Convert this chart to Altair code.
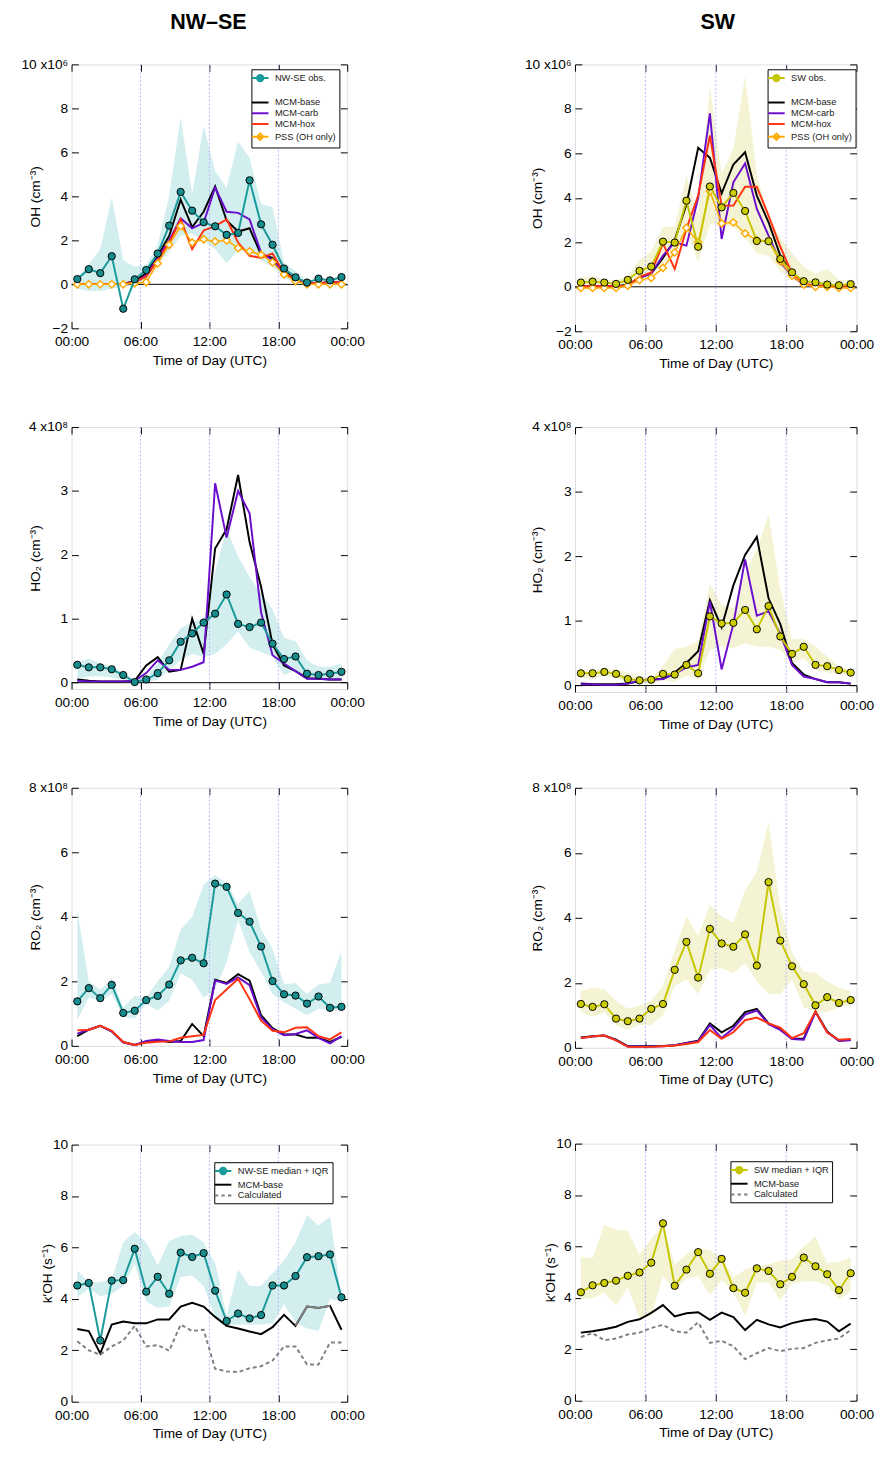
import altair as alt
import pandas as pd

FONT = "Liberation Sans"

# ---------------- data ----------------
T = [0.5, 1.5, 2.5, 3.5, 4.5, 5.5, 6.5, 7.5, 8.5, 9.5, 10.5, 11.5,
     12.5, 13.5, 14.5, 15.5, 16.5, 17.5, 18.5, 19.5, 20.5, 21.5, 22.5, 23.5]

# OH (x10^6 cm-3) NW-SE
nw_oh_obs = [0.24, 0.69, 0.51, 1.28, -1.11, 0.23, 0.65, 1.40, 2.67, 4.20, 3.35, 2.82, 2.64, 2.25, 2.34, 4.73, 2.73, 1.80, 0.72, 0.32, 0.08, 0.26, 0.18, 0.33]
nw_oh_lo = [-0.2, -0.3, -0.3, -0.2, -0.1, -0.05, 0.2, 0.9, 1.5, 2.2, 2.3, 2.0, 1.6, 0.95, 1.55, 1.47, 1.1, 0.8, 0.3, 0.1, 0.0, 0.0, 0.05, 0.05]
nw_oh_hi = [0.3, 0.9, 1.6, 3.95, 1.1, 0.8, 0.9, 1.8, 4.0, 7.6, 4.1, 7.2, 5.15, 4.4, 6.5, 5.75, 3.65, 3.5, 1.0, 0.6, 0.2, 0.2, 0.3, 0.3]
nw_oh_base = [0.02, 0.02, 0.02, 0.02, 0.02, 0.15, 0.5, 1.3, 2.2, 3.85, 2.6, 3.3, 4.45, 2.9, 2.4, 2.55, 1.35, 1.2, 0.6, 0.3, 0.05, 0.05, 0.1, 0.1]
nw_oh_carb = [0.02, 0.02, 0.02, 0.02, 0.02, 0.1, 0.4, 1.2, 2.0, 3.0, 2.55, 2.8, 4.4, 3.3, 3.25, 2.95, 1.45, 1.1, 0.5, 0.2, 0.05, 0.05, 0.1, 0.1]
nw_oh_hox = [0.02, 0.02, 0.02, 0.02, 0.02, 0.1, 0.35, 1.1, 1.9, 2.95, 1.6, 2.45, 2.65, 2.95, 1.9, 1.3, 1.2, 1.4, 0.5, 0.25, 0.05, 0.05, 0.1, 0.1]
nw_oh_pss = [0.0, 0.0, 0.0, 0.0, 0.0, 0.05, 0.1, 0.95, 1.8, 2.65, 1.9, 2.05, 1.95, 2.0, 1.65, 1.5, 1.35, 1.0, 0.45, 0.15, 0.0, 0.0, 0.0, 0.0]

# OH SW
sw_oh_obs = [0.19, 0.23, 0.19, 0.13, 0.31, 0.72, 0.91, 2.03, 1.99, 3.87, 1.80, 4.51, 3.57, 4.22, 3.41, 2.06, 2.05, 1.25, 0.65, 0.25, 0.2, 0.1, 0.07, 0.12]
sw_oh_lo = [0.0, 0.0, 0.0, 0.0, 0.1, 0.3, 0.5, 1.0, 1.5, 2.6, 1.1, 2.8, 2.8, 2.7, 2.2, 1.5, 1.4, 0.7, 0.3, 0.1, 0.05, 0.05, 0.0, 0.0]
sw_oh_hi = [0.4, 0.5, 0.3, 0.3, 0.5, 1.2, 1.6, 2.7, 2.7, 5.0, 3.2, 9.0, 5.1, 6.2, 9.5, 5.0, 3.2, 2.2, 1.5, 0.9, 0.6, 0.8, 0.3, 0.3]
sw_oh_base = [0.02, 0.02, 0.02, 0.02, 0.1, 0.4, 0.6, 1.3, 2.1, 3.7, 6.25, 5.8, 4.2, 5.5, 6.05, 4.1, 2.9, 1.4, 0.6, 0.1, 0.05, 0.05, 0.03, 0.03]
sw_oh_carb = [0.02, 0.02, 0.02, 0.02, 0.05, 0.4, 0.6, 1.4, 2.0, 1.85, 4.0, 7.8, 2.15, 4.7, 5.55, 3.5, 2.3, 1.1, 0.5, 0.1, 0.03, 0.03, 0.03, 0.03]
sw_oh_hox = [0.02, 0.02, 0.02, 0.02, 0.05, 0.45, 0.65, 1.95, 0.8, 2.6, 4.1, 6.8, 3.65, 3.65, 4.5, 4.5, 3.2, 1.8, 0.6, 0.15, 0.05, 0.05, 0.03, 0.03]
sw_oh_pss = [-0.05, -0.05, -0.05, -0.05, 0.05, 0.3, 0.4, 0.85, 1.55, 2.65, 2.0, 4.3, 2.85, 2.9, 2.4, 2.1, 2.05, 1.15, 0.5, 0.1, 0.0, 0.0, -0.05, -0.05]

# HO2 (x10^8 cm-3) NW-SE
nw_ho2_obs = [0.28, 0.24, 0.24, 0.21, 0.12, 0.01, 0.05, 0.15, 0.35, 0.64, 0.77, 0.94, 1.08, 1.38, 0.92, 0.87, 0.94, 0.61, 0.37, 0.41, 0.14, 0.12, 0.14, 0.17]
nw_ho2_lo = [0.05, 0.1, 0.1, 0.08, 0.05, 0.0, 0.0, 0.05, 0.2, 0.35, 0.45, 0.4, 0.45, 0.6, 0.8, 0.55, 0.48, 0.41, 0.12, 0.2, 0.05, 0.05, 0.05, 0.05]
nw_ho2_hi = [0.3, 0.38, 0.3, 0.25, 0.15, 0.05, 0.1, 0.3, 0.6, 0.85, 0.95, 1.0, 1.75, 2.4, 1.98, 1.65, 1.4, 1.15, 0.7, 0.65, 0.35, 0.25, 0.25, 0.3]
nw_ho2_base = [0.05, 0.03, 0.02, 0.02, 0.02, 0.03, 0.27, 0.4, 0.17, 0.2, 1.0, 0.45, 2.1, 2.4, 3.25, 2.2, 1.5, 0.6, 0.27, 0.18, 0.07, 0.06, 0.05, 0.05]
nw_ho2_carb = [0.03, 0.02, 0.02, 0.02, 0.02, 0.03, 0.15, 0.35, 0.2, 0.2, 0.25, 0.32, 3.12, 2.27, 3.0, 2.65, 1.1, 0.43, 0.3, 0.18, 0.06, 0.06, 0.05, 0.05]

# HO2 SW
sw_ho2_obs = [0.19, 0.19, 0.21, 0.18, 0.10, 0.08, 0.09, 0.18, 0.17, 0.32, 0.19, 1.07, 0.96, 0.97, 1.17, 0.87, 1.23, 0.76, 0.49, 0.60, 0.32, 0.30, 0.24, 0.20]
sw_ho2_lo = [0.12, 0.1, 0.15, 0.12, 0.05, 0.02, 0.03, 0.08, 0.05, 0.15, 0.1, 0.55, 0.6, 0.58, 0.65, 0.6, 0.6, 0.55, 0.35, 0.42, 0.25, 0.2, 0.18, 0.15]
sw_ho2_hi = [0.25, 0.25, 0.27, 0.25, 0.2, 0.15, 0.12, 0.3, 0.57, 0.6, 0.68, 1.57, 1.25, 1.2, 1.75, 2.1, 2.65, 1.5, 0.72, 0.72, 0.6, 0.45, 0.3, 0.25]
sw_ho2_base = [0.03, 0.02, 0.02, 0.02, 0.03, 0.07, 0.1, 0.1, 0.2, 0.35, 0.53, 1.32, 0.9, 1.55, 2.02, 2.3, 1.35, 0.95, 0.35, 0.17, 0.1, 0.05, 0.05, 0.03]
sw_ho2_carb = [0.02, 0.02, 0.01, 0.01, 0.03, 0.08, 0.09, 0.1, 0.18, 0.28, 0.32, 1.3, 0.25, 0.95, 1.95, 1.08, 1.15, 0.8, 0.32, 0.14, 0.1, 0.05, 0.05, 0.03]

# RO2 (x10^8 cm-3) NW-SE
nw_ro2_obs = [1.38, 1.79, 1.48, 1.89, 1.02, 1.09, 1.42, 1.55, 1.90, 2.65, 2.73, 2.56, 5.03, 4.93, 4.12, 3.85, 3.08, 2.01, 1.60, 1.56, 1.31, 1.53, 1.18, 1.21]
nw_ro2_lo = [0.8, 1.5, 1.4, 1.6, 0.9, 0.85, 1.3, 1.1, 1.4, 2.25, 2.05, 1.5, 1.75, 2.6, 3.9, 2.9, 2.3, 1.6, 1.35, 1.15, 0.95, 1.15, 1.1, 1.1]
nw_ro2_hi = [4.2, 2.0, 1.75, 2.1, 1.2, 1.55, 1.5, 2.0, 2.45, 3.6, 4.0, 5.0, 5.3, 5.05, 4.4, 4.8, 3.6, 3.0, 1.9, 1.95, 1.6, 1.9, 1.95, 2.95]
nw_ro2_base = [0.3, 0.5, 0.62, 0.45, 0.12, 0.03, 0.12, 0.18, 0.12, 0.15, 0.68, 0.3, 2.05, 1.95, 2.22, 2.02, 0.95, 0.55, 0.35, 0.35, 0.25, 0.25, 0.12, 0.28]
nw_ro2_carb = [0.38, 0.5, 0.62, 0.45, 0.1, 0.03, 0.15, 0.2, 0.15, 0.12, 0.12, 0.18, 2.03, 1.92, 2.12, 1.88, 0.88, 0.52, 0.33, 0.37, 0.48, 0.25, 0.08, 0.3]
nw_ro2_hox = [0.48, 0.5, 0.62, 0.47, 0.12, 0.03, 0.1, 0.13, 0.14, 0.25, 0.3, 0.34, 1.42, 1.75, 2.08, 1.45, 0.78, 0.47, 0.42, 0.56, 0.58, 0.3, 0.2, 0.42]

# RO2 SW
sw_ro2_obs = [1.35, 1.26, 1.34, 0.90, 0.82, 0.90, 1.20, 1.35, 2.40, 3.26, 2.16, 3.66, 3.21, 3.11, 3.49, 2.53, 5.10, 3.30, 2.51, 1.96, 1.31, 1.56, 1.38, 1.47]
sw_ro2_lo = [1.1, 0.95, 1.1, 0.7, 0.55, 0.7, 0.7, 1.0, 1.9, 2.1, 1.65, 2.4, 2.45, 2.3, 2.6, 2.05, 1.65, 1.65, 2.1, 1.25, 1.1, 1.1, 1.25, 1.3]
sw_ro2_hi = [1.75, 1.85, 1.8, 1.45, 1.2, 1.3, 1.45, 1.9, 3.0, 4.05, 3.45, 4.4, 4.05, 3.85, 4.85, 5.4, 6.95, 4.3, 2.95, 2.35, 2.3, 2.05, 1.85, 1.75]
sw_ro2_base = [0.32, 0.36, 0.38, 0.25, 0.05, 0.05, 0.05, 0.06, 0.08, 0.15, 0.22, 0.75, 0.48, 0.68, 1.1, 1.2, 0.75, 0.58, 0.28, 0.28, 1.12, 0.5, 0.22, 0.25]
sw_ro2_carb = [0.3, 0.35, 0.38, 0.24, 0.04, 0.04, 0.04, 0.05, 0.08, 0.14, 0.2, 0.7, 0.3, 0.6, 1.02, 1.15, 0.73, 0.55, 0.27, 0.25, 1.1, 0.48, 0.22, 0.23]
sw_ro2_hox = [0.3, 0.35, 0.38, 0.23, 0.03, 0.03, 0.03, 0.05, 0.07, 0.12, 0.18, 0.55, 0.28, 0.48, 0.85, 0.93, 0.75, 0.62, 0.3, 0.45, 1.12, 0.47, 0.25, 0.27]

# k'OH (s-1) NW-SE
nw_k_obs = [4.52, 4.62, 2.38, 4.71, 4.73, 5.95, 4.28, 4.86, 4.20, 5.80, 5.63, 5.78, 4.32, 3.14, 3.43, 3.24, 3.37, 4.52, 4.52, 4.89, 5.62, 5.66, 5.73, 4.06]
nw_k_lo = [4.05, 4.4, 4.1, 4.2, 4.5, 5.35, 3.9, 3.65, 3.7, 4.85, 4.9, 4.5, 3.3, 2.95, 3.0, 3.0, 3.0, 3.05, 3.8, 3.1, 2.85, 2.75, 4.0, 3.9]
nw_k_hi = [5.1, 4.65, 4.65, 4.75, 6.2, 6.6, 6.2, 5.3, 6.25, 6.45, 6.5, 6.2, 5.4, 3.35, 5.15, 4.5, 4.5, 5.0, 5.5, 6.2, 7.25, 6.85, 7.2, 4.1]
nw_k_base = [2.83, 2.75, 1.88, 3.0, 3.12, 3.05, 3.05, 3.2, 3.2, 3.7, 3.85, 3.7, 3.3, 2.95, 2.85, 2.73, 2.63, 2.9, 3.38, 2.95, 3.7, 3.65, 3.73, 2.8]
nw_k_calc = [2.35, 2.0, 1.83, 2.15, 2.38, 2.95, 2.15, 2.2, 1.98, 3.0, 2.75, 2.8, 1.28, 1.18, 1.15, 1.3, 1.38, 1.6, 2.15, 2.15, 1.45, 1.45, 2.3, 2.3]

# k'OH SW
sw_k_obs = [4.22, 4.49, 4.58, 4.67, 4.86, 4.99, 5.37, 6.90, 4.47, 5.10, 5.78, 4.94, 5.52, 4.38, 4.20, 5.15, 5.05, 4.53, 4.82, 5.57, 5.23, 4.92, 4.30, 4.96]
sw_k_lo = [3.95, 4.0, 4.2, 3.7, 4.4, 3.2, 3.3, 4.85, 4.3, 4.75, 4.85, 4.1, 4.7, 4.25, 3.3, 4.6, 4.6, 3.9, 4.55, 4.65, 4.65, 4.5, 3.95, 4.25]
sw_k_hi = [5.6, 5.55, 6.85, 6.65, 6.6, 5.7, 6.3, 6.85, 5.3, 5.7, 5.95, 5.85, 5.55, 4.8, 5.1, 5.25, 5.3, 5.45, 5.5, 6.0, 6.4, 5.35, 5.4, 5.6]
sw_k_base = [2.65, 2.7, 2.78, 2.88, 3.07, 3.17, 3.42, 3.72, 3.28, 3.4, 3.44, 3.15, 3.43, 3.25, 2.75, 3.15, 2.97, 2.85, 3.02, 3.12, 3.18, 3.08, 2.7, 3.0]
sw_k_calc = [2.48, 2.63, 2.35, 2.42, 2.58, 2.65, 2.83, 2.95, 2.7, 2.65, 3.05, 2.25, 2.33, 2.12, 1.62, 1.85, 2.05, 1.93, 2.02, 2.05, 2.25, 2.35, 2.42, 2.75]

XTICKS = [0, 6, 12, 18, 24]
XLABELS = ["00:00", "06:00", "12:00", "18:00", "00:00"]
GRIDX = [6, 12, 18]

# ---------------- styles ----------------
TEAL_LINE, TEAL_FILL, TEAL_BAND = "#1a9a9a", "#168c8c", "#d2eeee"
YEL_LINE, YEL_FILL, YEL_BAND = "#c6c600", "#cccc00", "#f4f4d4"
BLACK, PURPLE, RED, ORANGE, GREY = "#000000", "#6a0dcc", "#ff3311", "#ffaa00", "#808080"
GRIDC = "#b4b4ff"

P_LINE = "M-1.7,0H1.7"
P_CIRC = ("M-1.7,0H1.7M0.65,0A0.65,0.65,0,1,1,-0.65,0A0.65,0.65,0,1,1,0.65,0"
          "M0.38,0A0.38,0.38,0,1,1,-0.38,0A0.38,0.38,0,1,1,0.38,0"
          "M0.12,0A0.12,0.12,0,1,1,-0.12,0A0.12,0.12,0,1,1,0.12,0")
P_DIAM = "M-1.7,0H1.7M0,-0.65L0.65,0L0,0.65L-0.65,0Z"
P_DASH = "M-1.7,0H-1.0M-0.35,0H0.35M1.0,0H1.7"

XS = alt.Scale(domain=[0, 24], nice=False, zero=False)


def x_bottom():
    expr = "[" + ",".join("'%s'" % s for s in XLABELS) + "][round(datum.value / 6)]"
    return alt.Axis(values=XTICKS, labelExpr=expr, title="Time of Day (UTC)", orient="bottom",
                    offset=-7, domain=False, tickSize=7, tickColor="black", tickWidth=1,
                    grid=False, labelFlush=False, labelPadding=7, labelFontSize=14,
                    titleFontSize=14, titleFontWeight="normal", labelColor="black",
                    titleColor="black", titlePadding=5, labelFont=FONT, titleFont=FONT)


def y_left(vals, top_label, title, title_x):
    expr = "datum.value == %s ? '%s' : datum.label" % (vals[-1], top_label)
    return alt.Axis(values=vals, labelExpr=expr, title=title, orient="left", offset=-7,
                    domain=False, tickSize=7, tickColor="black", tickWidth=1, grid=False,
                    labelPadding=4, labelFontSize=14, titleFontSize=14,
                    titleFontWeight="normal", titleX=title_x, labelColor="black",
                    titleColor="black", labelFont=FONT, titleFont=FONT, labelOverlap=False)


def x_top():
    return alt.Axis(values=XTICKS, orient="top", labels=False, title="", offset=-7,
                    domain=False, tickSize=7, tickColor="black", grid=False)


def y_right(vals):
    return alt.Axis(values=vals, orient="right", labels=False, title="", offset=-7,
                    domain=False, tickSize=7, tickColor="black", grid=False)


def panel(obs, lo, hi, models, obs_line, obs_fill, band, ydom, yvals, top_label,
          ytitle, title_x, w, h, legend=None, pss=None, zero=True, grey_seg=None):
    ys = alt.Scale(domain=ydom, nice=False, zero=False)
    bdf = pd.DataFrame({"t": T, "lo": lo, "hi": hi})
    layers = []
    layers.append(alt.Chart(bdf).mark_area(color=band, opacity=1).encode(
        x=alt.X("t:Q", scale=XS, axis=x_bottom()),
        y=alt.Y("lo:Q", scale=ys, axis=y_left(yvals, top_label, ytitle, title_x)),
        y2="hi:Q"))
    layers.append(alt.Chart(bdf).mark_point(opacity=0).encode(
        x=alt.X("t:Q", scale=XS, axis=x_top()),
        y=alt.Y("lo:Q", scale=ys, axis=y_right(yvals))))
    layers.append(alt.Chart(pd.DataFrame({"g": GRIDX})).mark_rule(
        color=GRIDC, strokeDash=[2, 2], strokeWidth=1).encode(
        x=alt.X("g:Q", scale=XS, axis=None)))
    if zero:
        layers.append(alt.Chart(pd.DataFrame({"z": [0]})).mark_rule(
            color="black", strokeWidth=1).encode(y=alt.Y("z:Q", scale=ys, axis=None)))

    def line(tt, vals, color, width=2.0, dash=None):
        kw = dict(color=color, strokeWidth=width)
        if dash:
            kw["strokeDash"] = dash
        return alt.Chart(pd.DataFrame({"t": tt, "v": vals})).mark_line(**kw).encode(
            x=alt.X("t:Q", scale=XS, axis=None), y=alt.Y("v:Q", scale=ys, axis=None))

    for vals, color, dash in models:
        layers.append(line(T, vals, color, 2.0, dash))
    if grey_seg is not None:
        a, b = grey_seg
        layers.append(line(T[a:b], models[0][0][a:b], GREY, 2.0))
    if pss is not None:
        layers.append(line(T, pss, ORANGE, 1.5))
        layers.append(alt.Chart(pd.DataFrame({"t": T, "v": pss})).mark_point(
            shape="diamond", filled=True, fill="white", stroke=ORANGE, strokeWidth=1.5,
            size=55, opacity=1).encode(
            x=alt.X("t:Q", scale=XS, axis=None), y=alt.Y("v:Q", scale=ys, axis=None)))
    layers.append(line(T, obs, obs_line, 2.0))
    layers.append(alt.Chart(pd.DataFrame({"t": T, "v": obs})).mark_point(
        shape="circle", filled=True, fill=obs_fill, stroke="black", strokeWidth=1,
        size=55, opacity=1).encode(
        x=alt.X("t:Q", scale=XS, axis=None), y=alt.Y("v:Q", scale=ys, axis=None)))
    if legend is not None:
        names, strokes, shapes, lx, ly = legend
        leg = alt.Legend(title=None, orient="none", legendX=lx, legendY=ly,
                         strokeColor="black", fillColor="white", padding=3,
                         labelFontSize=9.5, labelFont=FONT, labelColor="#222222",
                         symbolSize=100, symbolStrokeWidth=2, symbolOpacity=1,
                         rowPadding=0, labelOffset=9, labelLimit=300, cornerRadius=0)
        layers.append(alt.Chart(pd.DataFrame({"series": names})).mark_point(
            opacity=0, size=100, strokeWidth=2, filled=False).encode(
            stroke=alt.Stroke("series:N", scale=alt.Scale(domain=names, range=strokes), legend=leg),
            shape=alt.Shape("series:N", scale=alt.Scale(domain=names, range=shapes), legend=leg)))
    return alt.layer(*layers).resolve_axis(x="independent", y="independent").properties(
        width=w, height=h)


WL, WR = 282, 288
OH_LEG = ["MCM-base", "MCM-carb", "MCM-hox", "PSS (OH only)"]
oh_strokes = [BLACK, PURPLE, RED, ORANGE]
oh_shapes = [P_LINE, P_LINE, P_LINE, P_DIAM]

p1 = panel(nw_oh_obs, nw_oh_lo, nw_oh_hi,
           [(nw_oh_base, BLACK, None), (nw_oh_carb, PURPLE, None), (nw_oh_hox, RED, None)],
           TEAL_LINE, TEAL_FILL, TEAL_BAND, [-2, 10], [-2, 0, 2, 4, 6, 8, 10], "10 x10⁶",
           "OH (cm⁻³)", -37, WL, 270,
           legend=(["NW-SE obs.", " "] + OH_LEG, [TEAL_LINE, "transparent"] + oh_strokes,
                   [P_CIRC, P_LINE] + oh_shapes, 184, 5),
           pss=nw_oh_pss)
p2 = panel(sw_oh_obs, sw_oh_lo, sw_oh_hi,
           [(sw_oh_base, BLACK, None), (sw_oh_carb, PURPLE, None), (sw_oh_hox, RED, None)],
           YEL_LINE, YEL_FILL, YEL_BAND, [-2, 10], [-2, 0, 2, 4, 6, 8, 10], "10 x10⁶",
           "OH (cm⁻³)", -38, WR, 273,
           legend=(["SW obs.", " "] + OH_LEG, [YEL_LINE, "transparent"] + oh_strokes,
                   [P_CIRC, P_LINE] + oh_shapes, 197, 5),
           pss=sw_oh_pss)
p3 = panel(nw_ho2_obs, nw_ho2_lo, nw_ho2_hi,
           [(nw_ho2_base, BLACK, None), (nw_ho2_carb, PURPLE, None)],
           TEAL_LINE, TEAL_FILL, TEAL_BAND, [-0.1, 4], [0, 1, 2, 3, 4], "4 x10⁸",
           "HO₂ (cm⁻³)", -37, WL, 268)
p4 = panel(sw_ho2_obs, sw_ho2_lo, sw_ho2_hi,
           [(sw_ho2_base, BLACK, None), (sw_ho2_carb, PURPLE, None)],
           YEL_LINE, YEL_FILL, YEL_BAND, [-0.1, 4], [0, 1, 2, 3, 4], "4 x10⁸",
           "HO₂ (cm⁻³)", -38, WR, 271)
p5 = panel(nw_ro2_obs, nw_ro2_lo, nw_ro2_hi,
           [(nw_ro2_base, BLACK, None), (nw_ro2_carb, PURPLE, None), (nw_ro2_hox, RED, None)],
           TEAL_LINE, TEAL_FILL, TEAL_BAND, [0, 8], [0, 2, 4, 6, 8], "8 x10⁸",
           "RO₂ (cm⁻³)", -37, WL, 264, zero=False)
p6 = panel(sw_ro2_obs, sw_ro2_lo, sw_ro2_hi,
           [(sw_ro2_base, BLACK, None), (sw_ro2_carb, PURPLE, None), (sw_ro2_hox, RED, None)],
           YEL_LINE, YEL_FILL, YEL_BAND, [0, 8], [0, 2, 4, 6, 8], "8 x10⁸",
           "RO₂ (cm⁻³)", -38, WR, 266, zero=False)
p7 = panel(nw_k_obs, nw_k_lo, nw_k_hi,
           [(nw_k_base, BLACK, None), (nw_k_calc, GREY, [4, 3])],
           TEAL_LINE, TEAL_FILL, TEAL_BAND, [0, 10], [0, 2, 4, 6, 8, 10], "10",
           "k′OH (s⁻¹)", -25, WL, 263, zero=False, grey_seg=(19, 23),
           legend=(["NW-SE median + IQR", "MCM-base", "Calculated"], [TEAL_LINE, BLACK, GREY],
                   [P_CIRC, P_LINE, P_DASH], 146, 18))
p8 = panel(sw_k_obs, sw_k_lo, sw_k_hi,
           [(sw_k_base, BLACK, None), (sw_k_calc, GREY, [4, 3])],
           YEL_LINE, YEL_FILL, YEL_BAND, [0, 10], [0, 2, 4, 6, 8, 10], "10",
           "k′OH (s⁻¹)", -25, WR, 263, zero=False,
           legend=(["SW median + IQR", "MCM-base", "Calculated"], [YEL_LINE, BLACK, GREY],
                   [P_CIRC, P_LINE, P_DASH], 159, 18))


def col_title(text, dx):
    return alt.TitleParams(text, fontSize=22, fontWeight="bold", anchor="middle",
                           font=FONT, color="black", offset=16, frame="group", dx=dx, dy=-8)


IND = dict(stroke="independent", shape="independent")
left = alt.vconcat(p1, p3, p5, p7, spacing=52, title=col_title("NW–SE", 140)).resolve_scale(**IND)
right = alt.vconcat(p2, p4, p6, p8, spacing=49, title=col_title("SW", 146)).resolve_scale(**IND)

chart = alt.hconcat(left, right, spacing=161,
                    padding={"left": 12, "top": -14, "right": 5, "bottom": 5}
                    ).resolve_scale(**IND).configure_view(stroke="black", strokeWidth=1
                    ).configure(font=FONT)

chart.save("out.html", embed_options={"renderer": "svg", "actions": False})
